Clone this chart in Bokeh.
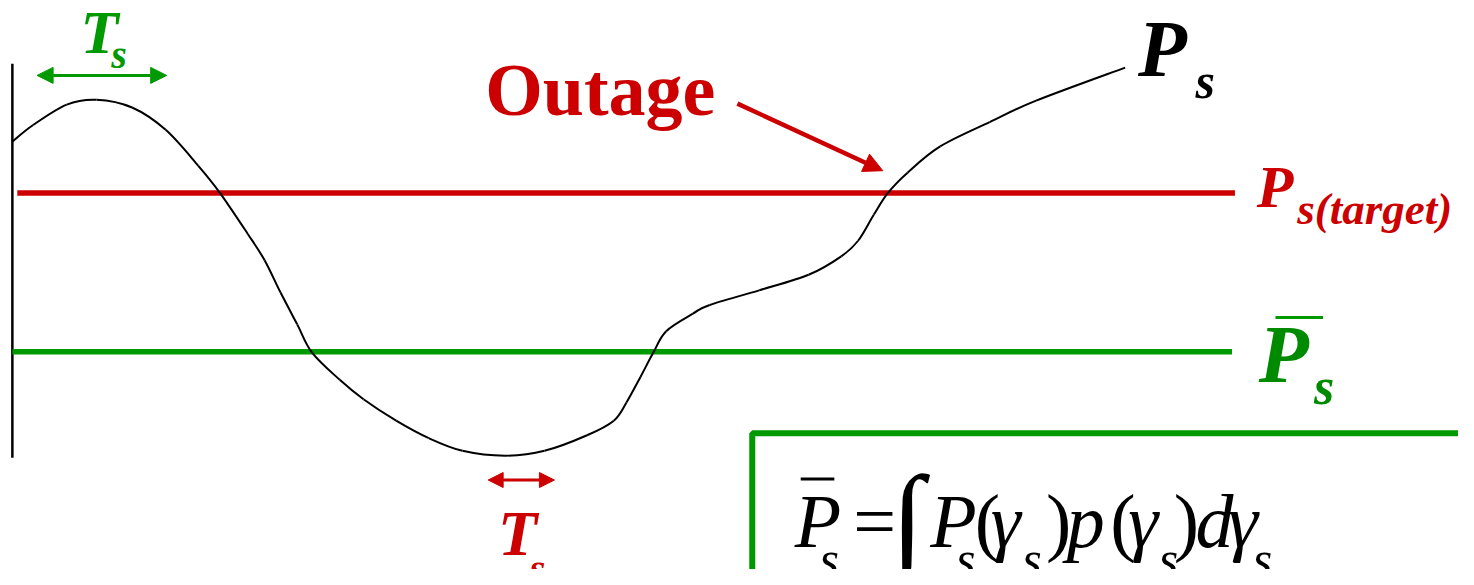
from bokeh.plotting import figure
from bokeh.models import Range1d, Label, Arrow, NormalHead
from bokeh.embed import file_html
from bokeh.resources import INLINE

# ---- data (diagram coordinates, y grows downward) ----
curve_x = [12, 33, 67, 97, 133, 167, 200, 222, 250, 267, 283, 300, 315, 343, 367, 400, 433,
           467, 510, 550, 593, 620, 633, 647, 660, 673, 700, 717, 767, 817, 850, 867, 883,
           897, 917, 950, 1000, 1047, 1137]
curve_y = [145, 128, 107, 102, 110, 133, 170, 198, 240, 267, 300, 333, 362, 390, 410, 432, 450,
           463, 468, 463, 447, 432, 413, 387, 362, 340, 322, 313, 298, 282, 263, 247, 220,
           198, 177, 150, 125, 103, 69]
target_level = 198
mean_level = 361
axis_top, axis_bottom = 65, 470

RED = "#cc0000"
GREEN = "#009900"
DGREEN = "#008a00"
SERIF = "Liberation Serif"

W, H = 1458, 569
p = figure(width=W, height=H, x_range=Range1d(0, 1474), y_range=Range1d(585, 0),
           output_backend="svg", toolbar_location=None, min_border=0)
p.axis.visible = False
p.grid.visible = False
p.outline_line_color = None
p.background_fill_color = "white"
p.border_fill_color = "white"

# vertical axis
p.line([12, 12], [axis_top, axis_bottom], line_color="black", line_width=2.5)
# target and mean levels
p.line([17, 1248], [target_level, target_level], line_color=RED, line_width=5.5)
p.line([12, 1245], [mean_level, mean_level], line_color=GREEN, line_width=5.5)

# signal curve: smooth Catmull-Rom rendering through the read points
n = len(curve_x)
bx0, by0, bx1, by1, c0x, c0y, c1x, c1y = [], [], [], [], [], [], [], []
for i in range(n - 1):
    i0, i3 = max(i - 1, 0), min(i + 2, n - 1)
    x0, y0 = curve_x[i], curve_y[i]
    x1, y1 = curve_x[i + 1], curve_y[i + 1]
    bx0.append(x0); by0.append(y0); bx1.append(x1); by1.append(y1)
    c0x.append(x0 + (x1 - curve_x[i0]) / 6); c0y.append(y0 + (y1 - curve_y[i0]) / 6)
    c1x.append(x1 - (curve_x[i3] - x0) / 6); c1y.append(y1 - (curve_y[i3] - y0) / 6)
p.bezier(x0=bx0, y0=by0, x1=bx1, y1=by1, cx0=c0x, cy0=c0y, cx1=c1x, cy1=c1y,
         line_color="black", line_width=2)

# formula box
p.line([760, 760, 1520], [640, 445, 445], line_color=GREEN, line_width=6)

SHIFT = 0.34 * 585 / H  # baseline correction (em -> data units)

def lab(x, y, t, size, color, style="bold italic", font=SERIF):
    p.add_layout(Label(x=x, y=y - SHIFT * size, text=t, text_font=font,
                       text_font_size=f"{size}px", text_font_style=style, text_color=color,
                       text_baseline="alphabetic", text_align="left"))

# top-left Ts
p.add_layout(Arrow(x_start=37, y_start=77, x_end=168, y_end=77, line_color=GREEN, line_width=3,
                   start=NormalHead(size=16, fill_color=GREEN, line_color=GREEN),
                   end=NormalHead(size=16, fill_color=GREEN, line_color=GREEN)))
lab(81, 54, "T", 62, GREEN)
lab(112, 70, "s", 40, GREEN)

# bottom Ts
p.add_layout(Arrow(x_start=493, y_start=493, x_end=560, y_end=493, line_color=RED, line_width=3,
                   start=NormalHead(size=15, fill_color=RED, line_color=RED),
                   end=NormalHead(size=15, fill_color=RED, line_color=RED)))
lab(503, 570, "T", 64, RED)
lab(535, 598, "s", 40, RED)

# Outage
lab(490, 118, "Outage", 74, RED, style="bold")
p.add_layout(Arrow(x_start=745, y_start=106, x_end=892, y_end=175, line_color=RED, line_width=4.5,
                   end=NormalHead(size=19, fill_color=RED, line_color=RED)))

# Ps
lab(1150, 78, "P", 80, "black")
lab(1208, 100, "s", 50, "black")

# Ps(target)
lab(1270, 213, "P", 60, RED)
lab(1311, 230, "s(target)", 45, RED)

# mean Ps
lab(1272, 393, "P", 82, DGREEN)
p.line([1289, 1337], [326, 326], line_color=GREEN, line_width=3)
lab(1328, 415, "s", 52, DGREEN)

# formula
FS = 76
SUB = 50
parts = [
    (803, 562, "P", FS, "italic"),
    (828, 592, "s", SUB, "italic"),
    (862, 562, "=", FS, "normal"),
    (900, 575, "\u222b", 120, "normal"),
    (940, 562, "P", FS, "italic"),
    (966, 592, "s", SUB, "italic"),
    (985, 562, "(", FS, "normal"),
    (1001, 562, "\u03b3", FS, "italic"),
    (1033, 592, "s", SUB, "italic"),
    (1057, 562, ")", FS, "normal"),
    (1078, 562, "p", FS, "italic"),
    (1122, 562, "(", FS, "normal"),
    (1140, 562, "\u03b3", FS, "italic"),
    (1171, 592, "s", SUB, "italic"),
    (1186, 562, ")", FS, "normal"),
    (1208, 562, "d", FS, "italic"),
    (1241, 562, "\u03b3", FS, "italic"),
    (1266, 592, "s", SUB, "italic"),
]
for x, y, t, s, st in parts:
    lab(x, y, t, s, "black", style=st)
p.line([809, 843], [492, 492], line_color="black", line_width=3)

open("out.html", "w").write(file_html(p, INLINE))
